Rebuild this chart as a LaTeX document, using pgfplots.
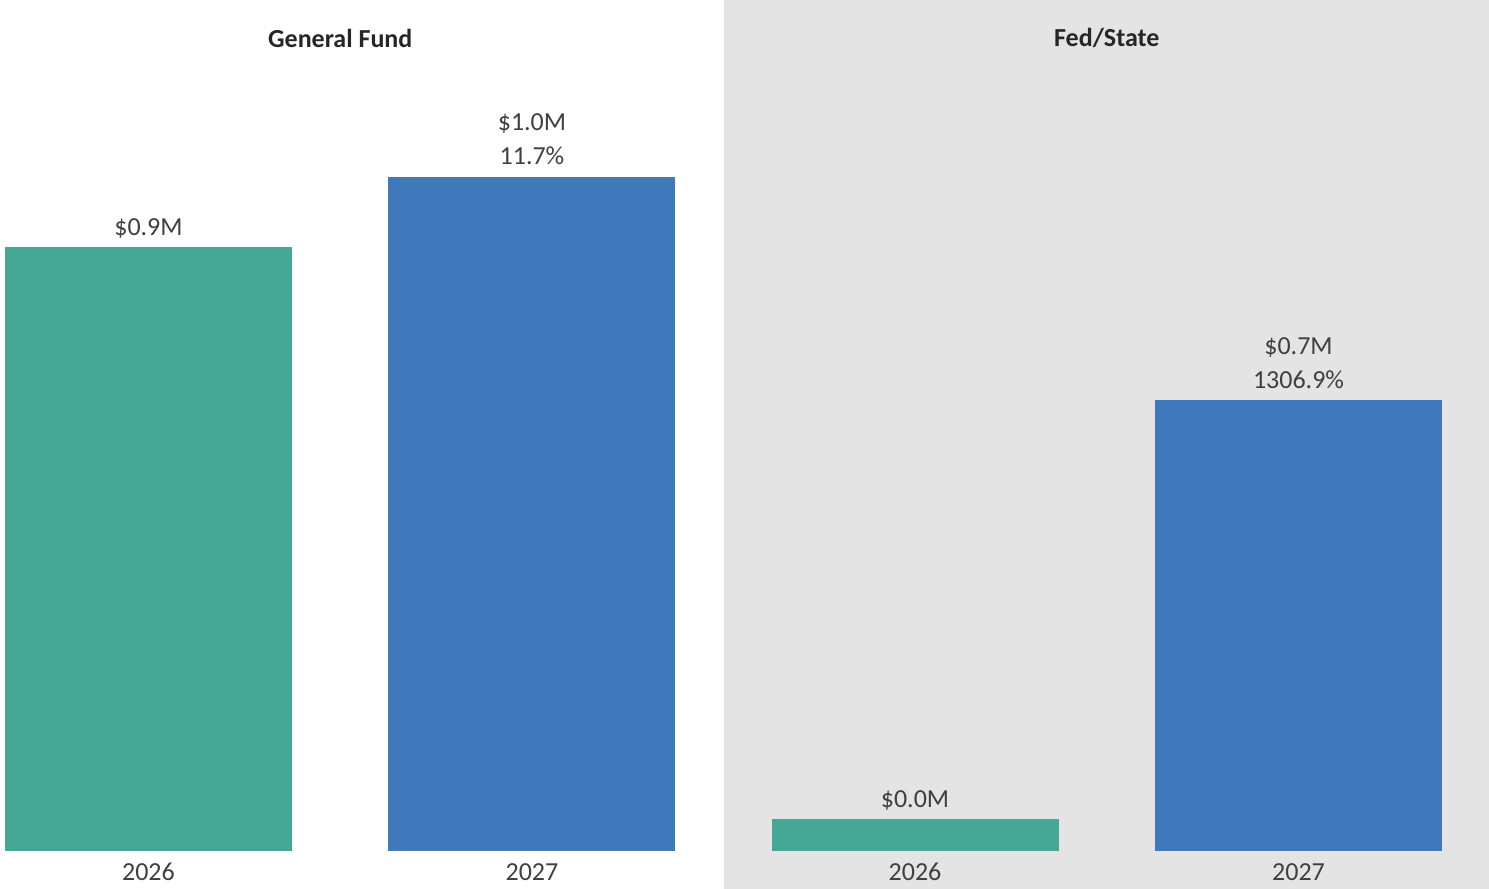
\documentclass[border=0pt]{standalone}
\usepackage{pgfplots}
\pgfplotsset{compat=1.18}
\usepackage{fontspec}
\setmainfont{Carlito}
\definecolor{tealbar}{RGB}{69,168,148}
\definecolor{bluebar}{RGB}{64,120,188}
\definecolor{panelgray}{RGB}{228,228,228}
\definecolor{lbl}{RGB}{64,64,64}
\definecolor{ttl}{RGB}{38,38,38}
\begin{document}
\begin{tikzpicture}
\useasboundingbox (0,0) rectangle (744.5pt,444.5pt);
\fill[panelgray] (362pt,0) rectangle (744.5pt,444.5pt);
\pgfplotsset{
  panel/.style={
    scale only axis, height=425.5pt, hide axis, clip=false,
    ymin=0, anchor=south west,
  },
}
\tikzset{
  vlab/.style={anchor=base, font=\fontsize{13}{15}\selectfont, text=lbl, inner sep=0pt},
  ttlab/.style={anchor=center, font=\fontsize{13}{15}\selectfont\bfseries, text=ttl, inner sep=0pt},
}
% General Fund
\begin{axis}[panel, at={(0pt,19pt)}, width=362pt,
  xmin=-0.3872, xmax=1.5007, ymax=1.2681]
\addplot[ybar, bar shift=0pt, bar width=143.5pt, fill=tealbar, draw=none] coordinates {(0,0.900)};
\addplot[ybar, bar shift=0pt, bar width=143.5pt, fill=bluebar, draw=none] coordinates {(1,1.005)};
\node[vlab, yshift=5.8pt] at (axis cs:0,0.900) {\$0.9M};
\node[vlab, yshift=5.8pt] at (axis cs:1,1.005) {11.7\%};
\node[vlab, yshift=22.8pt] at (axis cs:1,1.005) {\$1.0M};
\node[vlab, yshift=-14.7pt] at (axis cs:0,0) {2026};
\node[vlab, yshift=-14.7pt] at (axis cs:1,0) {2027};
\node[ttlab] at (axis cs:0.5,1.2114) {General Fund};
\end{axis}
% Fed/State
\begin{axis}[panel, at={(362pt,19pt)}, width=382.5pt,
  xmin=-0.4980, xmax=1.4967, ymax=1.3000]
\addplot[ybar, bar shift=0pt, bar width=143.5pt, fill=tealbar, draw=none] coordinates {(0,0.049)};
\addplot[ybar, bar shift=0pt, bar width=143.5pt, fill=bluebar, draw=none] coordinates {(1,0.689)};
\node[vlab, yshift=5.8pt] at (axis cs:0,0.049) {\$0.0M};
\node[vlab, yshift=5.8pt] at (axis cs:1,0.689) {1306.9\%};
\node[vlab, yshift=22.8pt] at (axis cs:1,0.689) {\$0.7M};
\node[vlab, yshift=-14.7pt] at (axis cs:0,0) {2026};
\node[vlab, yshift=-14.7pt] at (axis cs:1,0) {2027};
\node[ttlab] at (axis cs:0.5,1.242) {Fed/State};
\end{axis}
\end{tikzpicture}
\end{document}
